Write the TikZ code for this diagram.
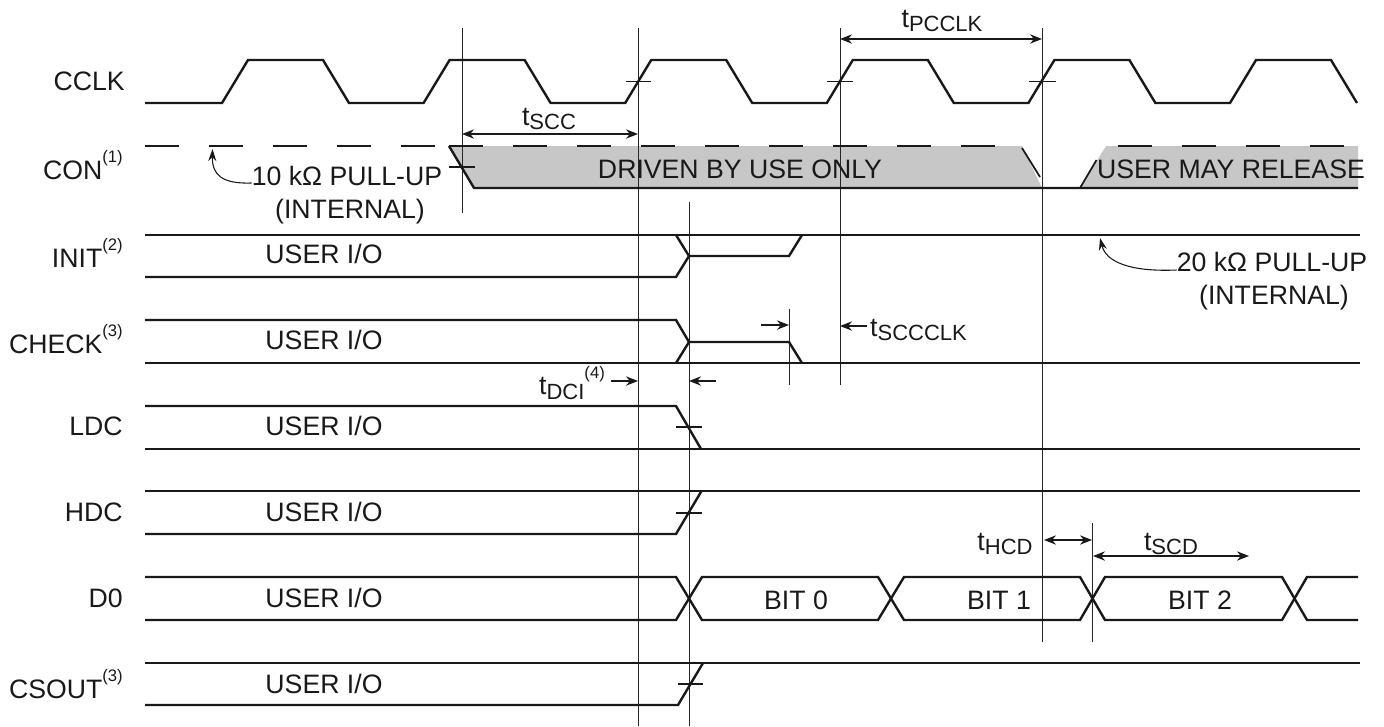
\documentclass[tikz,border=0pt]{standalone}
\usepackage{fontspec}
\setmainfont{Liberation Sans}
\usetikzlibrary{arrows.meta}

\newcommand{\notemark}[1]{\raisebox{1.15ex}{\fontsize{12.5}{12.5}\selectfont(#1)}}
\newcommand{\tname}[1]{t\raisebox{-0.35ex}{\fontsize{16.5}{16.5}\selectfont #1}}

\begin{document}
\begin{tikzpicture}[
    x=0.75pt, y=-0.75pt,
    sig/.style={line width=1.8pt, black!90, line join=miter},
    dashsig/.style={sig, dash pattern=on 25.5pt off 22.5pt},
    tickmark/.style={line width=0.9pt, black!90},
    guide/.style={line width=0.75pt, black!85},
    dim/.style={line width=1pt, black!90, -{Stealth[length=9pt,width=7pt]}},
    dimboth/.style={line width=1pt, black!90, {Stealth[length=9pt,width=7pt]}-{Stealth[length=9pt,width=7pt]}},
    pullarrow/.style={line width=0.8pt, black!90, -{Stealth[length=9pt,width=6pt]}},
    txt/.style={font=\fontsize{20}{23}\selectfont, inner sep=0pt, text=black!90, align=center},
    siglabel/.style={txt, anchor=east}
]
    \useasboundingbox (0,0) rectangle (1384,726);

    % shaded CON regions
    \fill[black!22] (449,146) -- (1022,146) -- (1042,188) -- (474,188) -- cycle;
    \fill[black!22] (1106,146) -- (1358,146) -- (1358,188) -- (1080,188) -- cycle;

    % guide lines
    \coordinate (ga) at (462,28);   \coordinate (gaend) at (462,213);
    \coordinate (gb) at (638,28);   \coordinate (gbend) at (638,726);
    \coordinate (gc) at (840,28);   \coordinate (gcend) at (840,385);
    \coordinate (gd) at (1042,28);  \coordinate (gdend) at (1042,642);
    \coordinate (ge) at (1092,523); \coordinate (geend) at (1092,642);
    \coordinate (gf) at (689,202);  \coordinate (gfend) at (689,726);
    \coordinate (gg) at (789,309);  \coordinate (ggend) at (789,385);
    \foreach \gname in {ga,gb,gc,gd,ge,gf,gg}
        \draw[guide] (\gname) -- (\gname end);

    % CCLK
    \draw[sig] (145,103) -- (222,103)
        \foreach \rise in {222,423.6,625.2,826.8,1028.4,1230} {
            -- (\rise,103) -- (\rise+26,60) -- (\rise+101,60) -- (\rise+127,103)
        };
    \draw[tickmark] (626,81.5) -- (651,81.5);
    \draw[tickmark] (827,81.5) -- (853,81.5);
    \draw[tickmark, line width=1.4pt] (1029,81.5) -- (1056,81.5);

    % CON
    \draw[dashsig] (145,146) -- (440,146);
    \draw[dashsig] (449,146) -- (1000,146);
    \draw[dashsig] (1118,146) -- (1350,146);
    \draw[sig] (449,146) -- (474,188) -- (1358,188);
    \draw[sig, line width=1.3pt] (1022,148) -- (1040,177);
    \draw[sig, line width=1.3pt] (1080,188) -- (1096.5,160);
    \draw[tickmark, line width=1.4pt] (449,167) -- (474.5,167);

    % INIT
    \draw[sig] (145,235) -- (1360,235);
    \draw[sig] (145,277) -- (676,277) -- (689,256) -- (789,256) -- (802,235);
    \draw[sig] (676,235) -- (689,256);

    % CHECK
    \draw[sig] (145,320) -- (676,320) -- (689,342) -- (789,342) -- (802,363);
    \draw[sig] (145,363) -- (1360,363);
    \draw[sig] (676,363) -- (689,342);

    % LDC
    \draw[sig] (145,406) -- (676,406) -- (701,449);
    \draw[sig] (145,449) -- (1360,449);
    \draw[tickmark] (676,427) -- (702,427);

    % HDC
    \draw[sig] (145,491) -- (1360,491);
    \draw[sig] (145,534) -- (676,534) -- (701.5,491);
    \draw[tickmark] (676,513) -- (702,513);

    % D0
    \draw[sig] (145,577) -- (676,577) -- (702,620) -- (878,620) -- (904,577) -- (1080,577) -- (1105,620) -- (1282,620) -- (1307,577) -- (1358,577);
    \draw[sig] (145,620) -- (676,620) -- (702,577) -- (878,577) -- (904,620) -- (1080,620) -- (1105,577) -- (1282,577) -- (1307,620) -- (1358,620);

    % CSOUT
    \draw[sig] (145,663) -- (1360,663);
    \draw[sig] (145,705) -- (678,705) -- (703,663);
    \draw[tickmark] (678,684) -- (703,684);

    % signal names
    \node[siglabel] (cclk) at (125,81) {CCLK};
    \node[siglabel] (con) at (123,165) {CON\notemark{1}};
    \node[siglabel] (init) at (123,253) {INIT\notemark{2}};
    \node[siglabel] (check) at (123,339) {CHECK\notemark{3}};
    \node[siglabel] (ldc) at (123,426) {LDC};
    \node[siglabel] (hdc) at (123,512) {HDC};
    \node[siglabel] (dzero) at (123,598) {D0};
    \node[siglabel] (csout) at (123,684) {CSOUT\notemark{3}};

    \foreach \yrow/\rname in {254/a,340/b,426/c,512/d,598/e,684/f}
        \node[txt] (user\rname) at (324,\yrow) {USER I/O};

    \node[txt] (driven) at (740,169) {DRIVEN BY USE ONLY};
    \node[txt] (release) at (1231,169) {USER MAY RELEASE};
    \node[txt] (bitzero) at (796,600) {BIT 0};
    \node[txt] (bitone) at (999,600) {BIT 1};
    \node[txt] (bittwo) at (1200,600) {BIT 2};

    % pull-ups
    \node[txt] (pullcon) at (347,176) {10 kΩ PULL-UP};
    \node[txt] (intcon) at (350,212) {(INTERNAL)};
    \node[txt] (pullinit) at (1272,262) {20 kΩ PULL-UP};
    \node[txt] (intinit) at (1274,298) {(INTERNAL)};
    \coordinate (tipcon) at (212.5,149);
    \coordinate (tipinit) at (1100,238);
    \draw[pullarrow] (pullcon.west |- 0,183) .. controls (222,184) and (212,175) .. (tipcon);
    \draw[pullarrow] (pullinit.west |- 0,270) .. controls (1130,272) and (1106,262) .. (tipinit);

    % timing labels
    \node[txt] (scc) at (549,119) {\tname{SCC}};
    \node[txt] (pcclk) at (942,21) {\tname{PCCLK}};
    \node[txt] (scclk) at (918.5,330) {\tname{SCCCLK}};
    \node[txt] (dci) at (572,383) {\tname{DCI}\notemark{4}};
    \node[txt] (hcd) at (1005,544) {\tname{HCD}};
    \node[txt] (scd) at (1171,544) {\tname{SCD}};

    \coordinate (sccl) at (462,134);   \coordinate (sccr) at (638,134);
    \coordinate (pcl) at (840,39);     \coordinate (pcr) at (1042,39);
    \coordinate (hcdl) at (1044,540);  \coordinate (hcdr) at (1092,540);
    \coordinate (scdl) at (1093,556);  \coordinate (scdr) at (1249,556);
    \coordinate (dcia) at (611,381);   \coordinate (dcib) at (638,381);
    \coordinate (dcic) at (716,381);   \coordinate (dcid) at (689,381);
    \coordinate (scla) at (761,325);   \coordinate (sclb) at (789,325);
    \coordinate (sclc) at (867,326);   \coordinate (scld) at (840,326);

    \draw[dimboth] (sccl) -- (sccr);
    \draw[dimboth] (pcl) -- (pcr);
    \draw[dimboth] (hcdl) -- (hcdr);
    \draw[dimboth] (scdl) -- (scdr);
    \draw[dim] (dcia) -- (dcib);
    \draw[dim] (dcic) -- (dcid);
    \draw[dim] (scla) -- (sclb);
    \draw[dim] (sclc) -- (scld);
\end{tikzpicture}
\end{document}
